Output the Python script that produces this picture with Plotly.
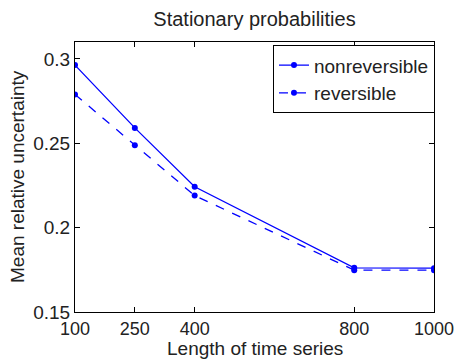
import plotly.graph_objects as go

lengths = [100, 250, 400, 800, 1000]
nonreversible = [0.2963, 0.2591, 0.2242, 0.1762, 0.1760]
reversible = [0.2789, 0.2488, 0.2190, 0.1748, 0.1748]
x_ticks = [100, 250, 400, 800, 1000]
y_ticks = [0.15, 0.2, 0.25, 0.3]

blue = "rgb(0,0,255)"
fig = go.Figure()
fig.add_trace(go.Scatter(x=lengths, y=nonreversible, mode="lines+markers", name="nonreversible",
                         line=dict(color=blue, width=1.3), marker=dict(size=6, color=blue)))
fig.add_trace(go.Scatter(x=lengths, y=reversible, mode="lines+markers", name="reversible",
                         line=dict(color=blue, width=1.3, dash="dash"), marker=dict(size=6, color=blue)))

font = "Liberation Sans, Arial, Helvetica, sans-serif"
fs = 19
W, H = 456, 360
ml, mr, mt, mb = 75, 22, 42, 48
pw, ph = W - ml - mr, H - mt - mb
fig.update_layout(
    width=W, height=H,
    margin=dict(l=ml, r=mr, t=mt, b=mb),
    paper_bgcolor="white", plot_bgcolor="white",
    font=dict(family=font, size=fs, color="#222"),
    title=dict(text="Stationary probabilities", x=0.5, xref="paper", xanchor="center",
               y=1 - 19 / H, yanchor="middle", font=dict(size=20, color="#222")),
    legend=dict(x=0.5515, y=0.988, xanchor="left", yanchor="top", bgcolor="white",
                bordercolor="black", borderwidth=1, font=dict(size=19, color="#222"),
                itemwidth=30, tracegroupgap=0),
    showlegend=True,
    annotations=[
        dict(text="Length of time series", xref="paper", yref="paper", x=0.5, y=-mb / ph,
             xanchor="center", yanchor="bottom", borderpad=0, showarrow=False,
             font=dict(size=19, color="#222")),
        dict(text="Mean relative uncertainty", xref="paper", yref="paper", x=(17 - ml) / pw, y=0.5,
             xanchor="center", yanchor="middle", textangle=-90, showarrow=False,
             font=dict(size=19, color="#222")),
    ],
)
fig.update_xaxes(range=[100, 1000], tickvals=x_ticks, ticktext=[str(v) for v in x_ticks],
                 ticks="inside", ticklen=5, tickcolor="black", showline=True, linecolor="black",
                 linewidth=1, mirror="ticks", showgrid=False, zeroline=False, automargin=False,
                 ticklabeloverflow="allow", ticklabelstandoff=0,
                 tickfont=dict(size=18, color="#222"))
fig.update_yaxes(range=[0.15, 0.31], tickvals=y_ticks, ticktext=["0.15", "0.2", "0.25", "0.3"],
                 ticks="inside", ticklen=5, tickcolor="black", showline=True, linecolor="black",
                 linewidth=1, mirror="ticks", showgrid=False, zeroline=False, automargin=False,
                 ticklabelstandoff=0,
                 tickfont=dict(size=fs, color="#222"))
fig.write_html("out.html")
